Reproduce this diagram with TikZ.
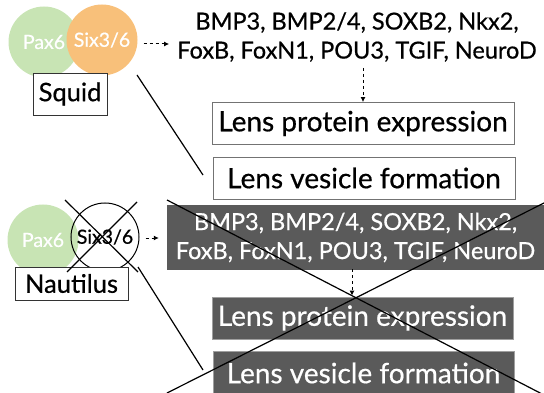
\documentclass[tikz,border=0pt]{standalone}
\usepackage{fontspec}
\setmainfont{Lato}[FakeBold=0.6]
\usetikzlibrary{arrows.meta}
\definecolor{paxgreen}{RGB}{200,228,180}
\definecolor{sixorange}{RGB}{248,192,122}
\definecolor{lossgrey}{RGB}{90,90,90}
\begin{document}
\begin{tikzpicture}[x=1pt,y=-1pt,
  genes/.style={font=\fontsize{23.5}{29}\selectfont, align=center, inner sep=0pt},
  lensbox/.style={draw=black!55, line width=0.8pt, fill=white, inner sep=0pt,
    minimum width=302pt, minimum height=42pt, font=\fontsize{28}{32}\selectfont},
  lossbox/.style={lensbox, fill=lossgrey, draw=gray!75, text=white},
  gene/.style={circle, minimum size=71pt, inner sep=0pt, text=white,
    font=\fontsize{19.5}{22}\selectfont},
  species/.style={draw=black!80, line width=0.7pt, fill=white, inner sep=0pt,
    font=\fontsize{25.5}{28}\selectfont},
  flow/.style={line width=1pt, dash pattern=on 3pt off 3pt,
    -{Latex[length=5pt,width=5pt]}},
  cross/.style={line width=1.2pt}]
\useasboundingbox (0,0) rectangle (544,393);

% ---- Squid ----
\node[gene, fill=paxgreen] (pax1) at (44,42) {Pax6};
\node[gene, fill=sixorange] (six1) at (102,40) {Six3/6};
\node[species, minimum width=74pt, minimum height=42pt] (squid) at (70,94) {Squid};

\node[genes] (genes1) at (357,37) {BMP3, BMP2/4, SOXB2, Nkx2,\\FoxB, FoxN1, POU3, TGIF, NeuroD};
\node[lensbox] (lensA) at (363,123.5) {Lens protein expression};
\node[lensbox] (lensB) at (364,178) {Lens vesicle formation};

\draw[flow, shorten <=6pt, shorten >=8pt] ([yshift=-4pt]six1.east) -- ([yshift=-4pt]six1.east -| genes1.west);
\draw[flow] ([yshift=-6pt]genes1.south -| lensA.north) -- (lensA.north);

\coordinate (sqA) at (137,75);
\coordinate (sqB) at (203,175);
\draw[cross] (sqA) -- (sqB);

% ---- Nautilus ----
\node[gene, fill=paxgreen] (pax2) at (43,240) {Pax6};
\node[gene, draw=black, line width=1pt, text=black, minimum size=68pt] (six2) at (105,237) {Six3/6};
\node[species, minimum width=113pt, minimum height=33pt] (nautilus) at (71.5,283.5) {Nautilus};

\coordinate (sxA) at (65,200);
\coordinate (sxB) at (138,272);
\coordinate (sxC) at (137,202);
\coordinate (sxD) at (67,272);
\draw[cross] (sxA) -- (sxB);
\draw[cross] (sxC) -- (sxD);

\node[genes, fill=lossgrey, text=white, minimum width=377pt, minimum height=65pt] (genes2) at (355.5,237.5)
  {BMP3, BMP2/4, SOXB2, Nkx2,\\FoxB, FoxN1, POU3, TGIF, NeuroD};
\node[lossbox, minimum width=301pt] (lensC) at (362.5,318) {Lens protein expression};
\node[lossbox, minimum width=301pt, minimum height=44pt] (lensD) at (363.5,373) {Lens vesicle formation};

\draw[flow, shorten <=6pt, shorten >=8pt] ([yshift=-1pt]six2.east) -- ([yshift=-1pt]six2.east -| genes2.west);
\draw[flow, shorten <=-1pt, shorten >=1pt] (genes2.south -| 352,0) -- (lensC.north -| 352,0);

\coordinate (nuA) at (138,267);
\coordinate (nuB) at (203,370);
\draw[cross] (nuA) -- (nuB);

% large cross over the lower half
\coordinate (xTL) at (167,200);
\coordinate (xBR) at (544,395);
\coordinate (xTR) at (544,203);
\coordinate (xBL) at (167,393);
\draw[cross] (xTL) -- (xBR);
\draw[cross] (xTR) -- (xBL);
\end{tikzpicture}
\end{document}
